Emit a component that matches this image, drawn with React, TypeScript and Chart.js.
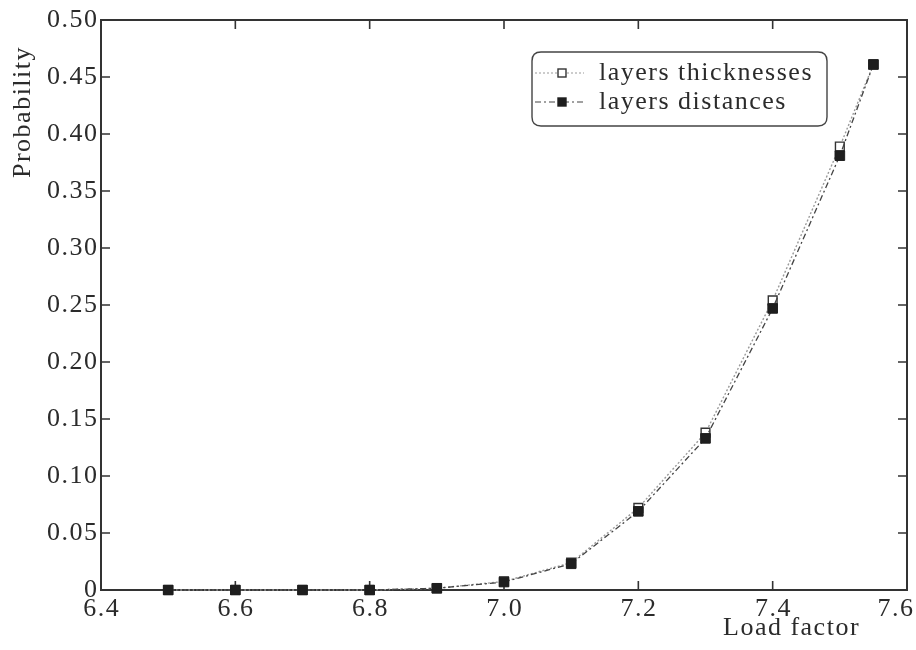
import React, { useEffect, useRef } from 'react';
import { Chart, registerables } from 'chart.js';

Chart.register(...registerables);

// ---- data ----
const loadFactor = [6.5, 6.6, 6.7, 6.8, 6.9, 7.0, 7.1, 7.2, 7.3, 7.4, 7.5, 7.55];
const thicknessProb = [0, 0, 0, 0, 0.0015, 0.0075, 0.024, 0.072, 0.138, 0.254, 0.389, 0.461];
const distanceProb = [0, 0, 0, 0, 0.0015, 0.007, 0.023, 0.069, 0.133, 0.247, 0.381, 0.461];
const xTicks = [6.4, 6.6, 6.8, 7.0, 7.2, 7.4, 7.6];
const yTicks = [0, 0.05, 0.1, 0.15, 0.2, 0.25, 0.3, 0.35, 0.4, 0.45, 0.5];
const seriesNames = ['layers thicknesses', 'layers distances'];
const xTitle = 'Load factor';
const yTitle = 'Probability';

const FONT_FAMILY = "'Liberation Serif', 'Times New Roman', serif";
const FONT_SIZE = 26;
const INK = '#2b2b2b';
const SPACING = '1.5px';

const paperPlugin = {
  id: 'paperStyle',
  beforeUpdate(chart: any) {
    chart.ctx.letterSpacing = SPACING;
  },
  beforeLayout(chart: any) {
    chart.ctx.letterSpacing = SPACING;
  },
  beforeDraw(chart: any) {
    const ctx = chart.ctx;
    ctx.letterSpacing = SPACING;
    ctx.save();
    ctx.fillStyle = '#ffffff';
    ctx.fillRect(0, 0, chart.width, chart.height);
    ctx.restore();
  },
  beforeDatasetsDraw(chart: any) {
    const ctx = chart.ctx;
    const a = chart.chartArea;
    const xs = chart.scales.x;
    const ys = chart.scales.y;
    ctx.save();
    ctx.strokeStyle = '#333333';
    ctx.lineWidth = 2;
    ctx.strokeRect(a.left, a.top, a.right - a.left, a.bottom - a.top);
    ctx.lineWidth = 1.6;
    const tl = 9;
    ctx.beginPath();
    xTicks.forEach((v) => {
      const px = xs.getPixelForValue(v);
      ctx.moveTo(px, a.bottom);
      ctx.lineTo(px, a.bottom - tl);
      ctx.moveTo(px, a.top);
      ctx.lineTo(px, a.top + tl);
    });
    yTicks.forEach((v) => {
      const py = ys.getPixelForValue(v);
      ctx.moveTo(a.left, py);
      ctx.lineTo(a.left + tl, py);
      ctx.moveTo(a.right, py);
      ctx.lineTo(a.right - tl, py);
    });
    ctx.stroke();

    // x tick labels (kept inside the canvas at the right edge)
    ctx.letterSpacing = SPACING;
    ctx.font = `${FONT_SIZE}px ${FONT_FAMILY}`;
    ctx.fillStyle = INK;
    ctx.textAlign = 'left';
    ctx.textBaseline = 'alphabetic';
    xTicks.forEach((v) => {
      const label = v.toFixed(1);
      const w = ctx.measureText(label).width - 1.5;
      let left = xs.getPixelForValue(v) - w / 2;
      if (left + w > chart.width - 3) left = chart.width - 3 - w;
      ctx.fillText(label, left, a.bottom + 26);
    });
    ctx.restore();
  },
  afterDraw(chart: any) {
    const ctx = chart.ctx;
    const a = chart.chartArea;
    ctx.save();
    ctx.letterSpacing = SPACING;
    ctx.fillStyle = INK;
    ctx.font = `${FONT_SIZE}px ${FONT_FAMILY}`;

    // x title
    ctx.textAlign = 'left';
    ctx.textBaseline = 'alphabetic';
    ctx.fillText(xTitle, a.right - 184, a.bottom + 45);

    // y title
    ctx.save();
    ctx.translate(23, a.top + 92);
    ctx.rotate(-Math.PI / 2);
    ctx.textAlign = 'center';
    ctx.textBaseline = 'middle';
    ctx.fillText(yTitle, 0, 0);
    ctx.restore();

    // legend
    const lx = 532, ly = 52, lw = 295, lh = 74, r = 9;
    ctx.beginPath();
    ctx.moveTo(lx + r, ly);
    ctx.lineTo(lx + lw - r, ly);
    ctx.quadraticCurveTo(lx + lw, ly, lx + lw, ly + r);
    ctx.lineTo(lx + lw, ly + lh - r);
    ctx.quadraticCurveTo(lx + lw, ly + lh, lx + lw - r, ly + lh);
    ctx.lineTo(lx + r, ly + lh);
    ctx.quadraticCurveTo(lx, ly + lh, lx, ly + lh - r);
    ctx.lineTo(lx, ly + r);
    ctx.quadraticCurveTo(lx, ly, lx + r, ly);
    ctx.closePath();
    ctx.fillStyle = '#ffffff';
    ctx.fill();
    ctx.strokeStyle = '#444444';
    ctx.lineWidth = 1.4;
    ctx.stroke();

    const rows = [73, 102];
    chart.data.datasets.forEach((ds: any, i: number) => {
      const y = rows[i];
      ctx.save();
      ctx.strokeStyle = ds.borderColor;
      ctx.lineWidth = 1.2;
      ctx.setLineDash(ds.borderDash || []);
      ctx.beginPath();
      ctx.moveTo(535, y);
      ctx.lineTo(584, y);
      ctx.stroke();
      ctx.setLineDash([]);
      const s = 8;
      ctx.fillStyle = ds.pointBackgroundColor;
      ctx.fillRect(562 - s / 2, y - s / 2, s, s);
      ctx.strokeStyle = ds.pointBorderColor;
      ctx.lineWidth = 1.4;
      ctx.strokeRect(562 - s / 2, y - s / 2, s, s);
      ctx.restore();
      ctx.fillStyle = INK;
      ctx.textAlign = 'left';
      ctx.textBaseline = 'alphabetic';
      ctx.fillText(ds.label, 599, y + 7);
    });
    ctx.restore();
  },
};

export default function App() {
  const canvasRef = useRef<HTMLCanvasElement | null>(null);

  useEffect(() => {
    if (!canvasRef.current) return;
    const chart = new Chart(canvasRef.current, {
      type: 'line',
      data: {
        datasets: [
          {
            label: seriesNames[0],
            data: loadFactor.map((x, i) => ({ x, y: thicknessProb[i] })),
            borderColor: '#9a9a9a',
            borderWidth: 1.4,
            borderDash: [2, 2],
            pointStyle: 'rect',
            pointRadius: 6.2,
            pointBackgroundColor: '#ffffff',
            pointBorderColor: '#333333',
            pointBorderWidth: 1.4,
            fill: false,
            tension: 0,
            order: 1,
            clip: false as any,
          },
          {
            label: seriesNames[1],
            data: loadFactor.map((x, i) => ({ x, y: distanceProb[i] })),
            borderColor: '#444444',
            borderWidth: 1.3,
            borderDash: [6, 3, 2, 3],
            pointStyle: 'rect',
            pointRadius: 6.8,
            pointBackgroundColor: '#1e1e1e',
            pointBorderColor: '#1e1e1e',
            pointBorderWidth: 1,
            fill: false,
            tension: 0,
            order: 0,
            clip: false as any,
          },
        ],
      },
      options: {
        animation: false,
        responsive: false,
        maintainAspectRatio: false,
        layout: { padding: { top: 20, right: 9, left: 0, bottom: 0 } },
        plugins: {
          legend: { display: false },
          tooltip: { enabled: false },
          title: { display: false },
        },
        scales: {
          x: {
            type: 'linear',
            min: 6.4,
            max: 7.6,
            grid: { display: false, drawTicks: false },
            border: { display: false },
            afterBuildTicks: (s: any) => {
              s.ticks = xTicks.map((v) => ({ value: v }));
            },
            afterFit: (s: any) => {
              s.height = 60;
              s.paddingLeft = 0;
              s.paddingRight = 0;
            },
            ticks: {
              display: false,
              font: { family: FONT_FAMILY, size: FONT_SIZE },
              autoSkip: false,
            },
          },
          y: {
            type: 'linear',
            min: 0,
            max: 0.5,
            grid: { display: false, drawTicks: false },
            border: { display: false },
            afterBuildTicks: (s: any) => {
              s.ticks = yTicks.map((v) => ({ value: v }));
            },
            afterFit: (s: any) => {
              s.width = 101;
              s.paddingTop = 0;
              s.paddingBottom = 0;
            },
            ticks: {
              padding: 2.5,
              color: INK,
              font: { family: FONT_FAMILY, size: FONT_SIZE },
              autoSkip: false,
              callback: (v: any) => (Number(v) === 0 ? '0' : Number(v).toFixed(2)),
            },
          },
        },
      },
      plugins: [paperPlugin],
    });
    return () => chart.destroy();
  }, []);

  return (
    <div style={{ position: 'absolute', left: 0, top: 0, width: 916, height: 650 }}>
      <canvas ref={canvasRef} width={916} height={650} style={{ width: 916, height: 650, display: 'block' }} />
    </div>
  );
}
